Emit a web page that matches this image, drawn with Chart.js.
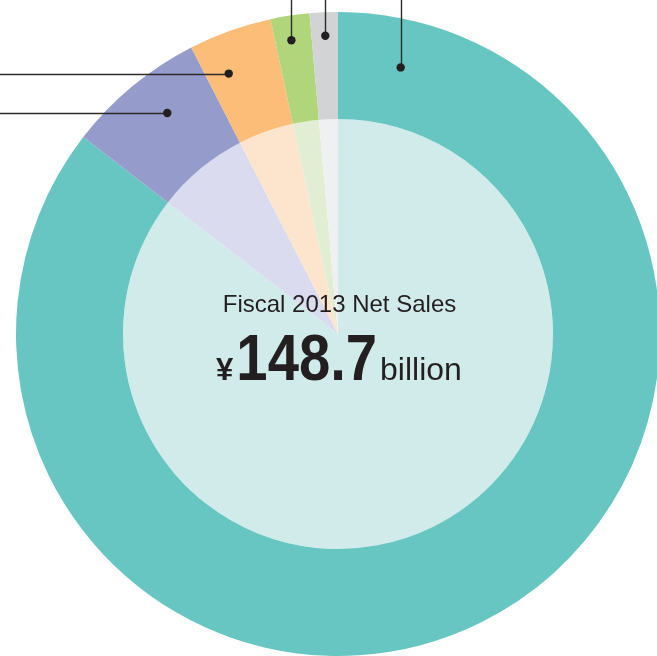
<!DOCTYPE html>
<html lang="en">
<head>
  <meta charset="UTF-8">
  <title>Fiscal 2013 Net Sales</title>
  <script src="https://cdn.jsdelivr.net/npm/chart.js"></script>
  <style>
    html, body { margin: 0; padding: 0; background: #fff; overflow: hidden; }
    #wrap { position: absolute; left: 0; top: 0; width: 660px; height: 660px; }
  </style>
</head>
<body>
  <div id="wrap"><canvas id="salesChart" width="660" height="660"></canvas></div>

  <script>
    // net sales by segment, billions of yen
    const segments = ['Segment A', 'Segment B', 'Segment C', 'Segment D', 'Segment E'];
    const salesBillions = [127.1, 10.4, 6.2, 2.9, 2.1];
    const ringColors = ['#67c6c1', '#959bcb', '#fbbd78', '#b0d57a', '#d1d3d4'];
    const pieColors = ['#d1ebea', '#dadbee', '#fde5cd', '#e1eed3', '#eff0f2'];
    const fiscalYear = 2013;

    // where each callout dot sits: fraction along the arc, fraction into the ring, line direction
    const callouts = [
      { along: 0.043, depth: 0.55, dir: 'up' },
      { along: 0.58, depth: 0.60, dir: 'left' },
      { along: 0.29, depth: 0.63, dir: 'left' },
      { along: 0.44, depth: 0.77, dir: 'up' },
      { along: 0.52, depth: 0.78, dir: 'up' }
    ];

    const INK = '#231f20';

    const calloutPlugin = {
      id: 'callouts',
      afterDatasetsDraw(chart) {
        const ctx = chart.ctx;
        const arcs = chart.getDatasetMeta(0).data;
        ctx.save();
        ctx.strokeStyle = '#2e2a2b';
        ctx.fillStyle = INK;
        ctx.lineWidth = 1.4;
        arcs.forEach((arc, i) => {
          const c = callouts[i];
          const p = arc.getProps(['x', 'y', 'startAngle', 'endAngle', 'innerRadius', 'outerRadius'], true);
          const a = p.startAngle + (p.endAngle - p.startAngle) * c.along;
          const r = p.innerRadius + (p.outerRadius - p.innerRadius) * c.depth;
          const x = p.x + Math.cos(a) * r;
          const y = p.y + Math.sin(a) * r;
          ctx.beginPath();
          if (c.dir === 'up') {
            ctx.moveTo(Math.round(x) + 0.5, y);
            ctx.lineTo(Math.round(x) + 0.5, 0);
          } else {
            ctx.moveTo(x, Math.round(y) + 0.5);
            ctx.lineTo(0, Math.round(y) + 0.5);
          }
          ctx.stroke();
          ctx.beginPath();
          ctx.arc(x, y, 4.2, 0, Math.PI * 2);
          ctx.fill();
        });
        ctx.restore();
      }
    };

    const centerTextPlugin = {
      id: 'centerText',
      afterDraw(chart) {
        const ctx = chart.ctx;
        const centre = chart.getDatasetMeta(1).data[0];
        const cx = centre.x;
        const cy = centre.y;
        const total = salesBillions.reduce((s, v) => s + v, 0).toFixed(1);

        ctx.save();
        ctx.fillStyle = INK;
        ctx.textBaseline = 'alphabetic';

        ctx.textAlign = 'center';
        ctx.font = '24px "Liberation Sans", Arial, sans-serif';
        ctx.fillText('Fiscal ' + fiscalYear + ' Net Sales', cx + 1.5, cy - 22);

        // "¥148.7billion" with a condensed bold figure
        ctx.textAlign = 'left';
        const yenFont = 'bold 31px "Liberation Sans", Arial, sans-serif';
        const unitFont = '32px "Liberation Sans", Arial, sans-serif';
        const bigFont = 'bold 65px "Liberation Sans", Arial, sans-serif';
        const squeeze = 0.865;
        const gap = 3;
        ctx.font = yenFont;
        const yenW = ctx.measureText('¥').width;
        ctx.font = unitFont;
        const unitW = ctx.measureText('billion').width;
        ctx.font = bigFont;
        const numW = ctx.measureText(total).width * squeeze;
        const baseline = cy + 46;
        let x = cx + 1 - (yenW + gap + numW + gap + unitW) / 2;

        ctx.font = yenFont;
        ctx.fillText('¥', x, baseline);
        x += yenW + gap;

        ctx.font = bigFont;
        ctx.save();
        ctx.translate(x, baseline);
        ctx.scale(squeeze, 1);
        ctx.fillText(total, 0, 0);
        ctx.restore();
        x += numW + gap;

        ctx.font = unitFont;
        ctx.fillText('billion', x, baseline);
        ctx.restore();
      }
    };

    new Chart(document.getElementById('salesChart'), {
      type: 'doughnut',
      data: {
        labels: segments,
        datasets: [
          { data: salesBillions, backgroundColor: ringColors, borderWidth: 0, weight: 107 },
          { data: salesBillions, backgroundColor: pieColors, borderWidth: 0, weight: 215 }
        ]
      },
      options: {
        responsive: false,
        animation: false,
        cutout: 0,
        events: [],
        layout: { padding: { left: 16, top: 12, right: 0, bottom: 4 } },
        plugins: {
          legend: { display: false },
          tooltip: { enabled: false }
        }
      },
      plugins: [calloutPlugin, centerTextPlugin]
    });
  </script>
</body>
</html>
